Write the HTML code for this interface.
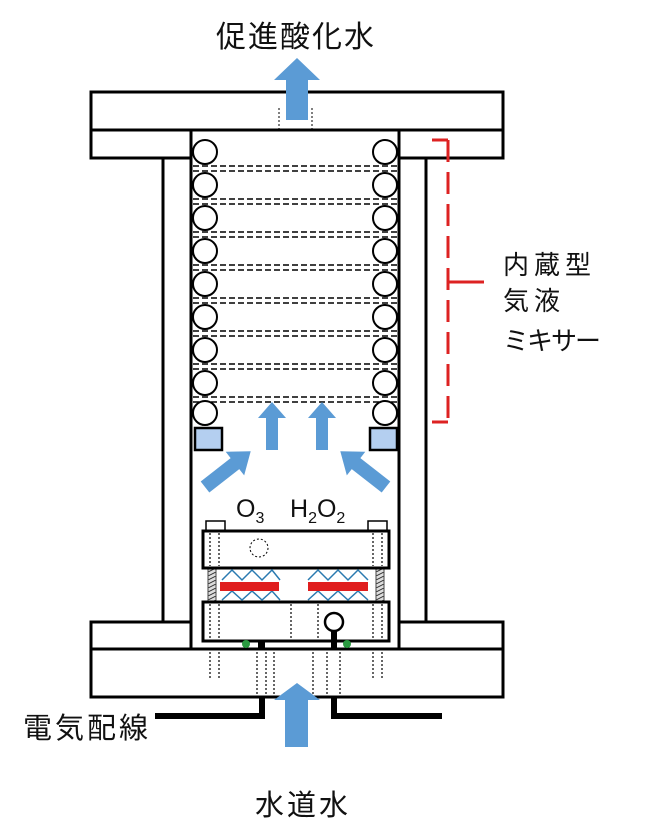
<!DOCTYPE html>
<html><head><meta charset="utf-8"><style>
html,body{margin:0;padding:0;background:#fff;}
svg{display:block;}
text{font-family:"Liberation Sans","Noto Sans CJK JP",sans-serif;fill:#111;}
</style></head><body>
<svg width="649" height="840" viewBox="0 0 649 840" xmlns="http://www.w3.org/2000/svg">
<defs>
<pattern id="hatch" width="8" height="4" patternUnits="userSpaceOnUse"><rect width="8" height="4" fill="#ddd"/><path d="M0 4L8 0" stroke="#333" stroke-width="1"/></pattern>
</defs>
<text x="296" y="47" font-size="30" text-anchor="middle" letter-spacing="2">促進酸化水</text>
<rect x="91" y="92" width="412" height="38" fill="#fff" stroke="#000" stroke-width="3"/>
<rect x="91" y="130" width="412" height="28" fill="#fff" stroke="#000" stroke-width="3"/>
<line x1="279" y1="108" x2="279" y2="130" stroke="#000" stroke-dasharray="2,2"/>
<line x1="312" y1="108" x2="312" y2="130" stroke="#000" stroke-dasharray="2,2"/>
<line x1="163" y1="158" x2="163" y2="622" stroke="#000" stroke-width="3"/>
<line x1="426" y1="158" x2="426" y2="622" stroke="#000" stroke-width="3"/>
<rect x="91" y="622" width="412" height="27" fill="#fff" stroke="#000" stroke-width="3"/>
<rect x="91" y="649" width="412" height="48" fill="#fff" stroke="#000" stroke-width="3"/>
<rect x="191" y="130" width="208" height="519" fill="#fff" stroke="#000" stroke-width="3"/>
<g transform="translate(297,120)"><polygon points="-11,0 11,0 11,-40 23,-40 0,-62 -23,-40 -11,-40" fill="#5b9bd5"/></g>
<g stroke="#000" stroke-width="1.5" stroke-dasharray="6,3">
<path d="M193 166H397M193 171H397M193 199H397M193 204H397M193 232H397M193 237H397M193 265H397M193 270H397M193 298H397M193 303H397M193 331H397M193 336H397M193 364H397M193 369H397M193 397H397M193 402H397"/>
</g>
<g fill="#fff" stroke="#000" stroke-width="2">
<circle cx="205" cy="152" r="12"/><circle cx="205" cy="185" r="12"/><circle cx="205" cy="218" r="12"/><circle cx="205" cy="251" r="12"/><circle cx="205" cy="284" r="12"/><circle cx="205" cy="317" r="12"/><circle cx="205" cy="350" r="12"/><circle cx="205" cy="383" r="12"/><circle cx="205" cy="413" r="12"/>
<circle cx="385" cy="152" r="12"/><circle cx="385" cy="185" r="12"/><circle cx="385" cy="218" r="12"/><circle cx="385" cy="251" r="12"/><circle cx="385" cy="284" r="12"/><circle cx="385" cy="317" r="12"/><circle cx="385" cy="350" r="12"/><circle cx="385" cy="383" r="12"/><circle cx="385" cy="413" r="12"/>
</g>
<rect x="195" y="428" width="27" height="22" fill="#b4cff0" stroke="#000" stroke-width="2.5"/>
<rect x="370" y="428" width="27" height="22" fill="#b4cff0" stroke="#000" stroke-width="2.5"/>
<g stroke="#d22" stroke-width="3" fill="none">
<path d="M432 140H448" /><path d="M432 422H448"/>
<path d="M448 140V422" stroke-dasharray="22,10"/>
<path d="M448 282H484"/>
</g>
<text x="503" y="274" font-size="26" letter-spacing="5">内蔵型</text>
<text x="503" y="310" font-size="26" letter-spacing="5">気液</text>
<text x="503" y="350" font-size="26" letter-spacing="-2">ミキサー</text>
<g fill="#5b9bd5">
<polygon points="266,450 278,450 278,418 286,418 272,402 258,418 266,418"/>
<polygon points="316,450 328,450 328,418 336,418 322,402 308,418 316,418"/>
</g>
<g transform="translate(205,487) rotate(52)"><polygon points="-7,0 7,0 7,-38 15,-38 0,-58 -15,-38 -7,-38" fill="#5b9bd5"/></g>
<g transform="translate(386,487) rotate(-52)"><polygon points="-7,0 7,0 7,-38 15,-38 0,-58 -15,-38 -7,-38" fill="#5b9bd5"/></g>
<text x="236" y="517" font-size="25">O<tspan font-size="16" dy="6">3</tspan></text>
<text x="290" y="517" font-size="25">H<tspan font-size="16" dy="6">2</tspan><tspan dy="-6">O</tspan><tspan font-size="16" dy="6">2</tspan></text>
<rect x="206" y="521" width="19" height="10" fill="#fff" stroke="#000" stroke-width="1.5"/>
<rect x="368" y="521" width="19" height="10" fill="#fff" stroke="#000" stroke-width="1.5"/>
<rect x="208" y="568" width="8" height="34" fill="url(#hatch)" stroke="#444"/>
<rect x="376" y="568" width="8" height="34" fill="url(#hatch)" stroke="#444"/>
<rect x="203" y="531" width="186" height="37" fill="#fff" stroke="#000" stroke-width="3"/>
<rect x="203" y="602" width="186" height="39" fill="#fff" stroke="#000" stroke-width="3"/>
<circle cx="259" cy="548" r="9" fill="none" stroke="#000" stroke-dasharray="2,2"/>
<g stroke="#000" stroke-width="1.2" stroke-dasharray="2,2">
<path d="M210 533V566M219 533V566M373 533V566M382 533V566M210 604V639M219 604V639M373 604V639M382 604V639M291 604V639M318 604V639"/>
<path d="M210 652V678M219 652V678M373 652V678M382 652V678M257 652V697M266 652V697M274 652V697M313 652V697M327 652V697M340 652V697"/>
</g>
<g fill="none" stroke="#2a7ab0" stroke-width="1.5">
<polyline points="222,580 232,570 242,580 252,570 262,580 272,570 280,580"/>
<polyline points="222,600 232,591 242,600 252,591 262,600 272,591 280,600"/>
<polyline points="308,580 318,570 328,580 338,570 348,580 358,570 368,580"/>
<polyline points="308,600 318,591 328,600 338,591 348,600 358,591 368,600"/>
</g>
<rect x="220" y="582" width="59" height="9" fill="#e01e1e"/>
<rect x="308" y="582" width="60" height="9" fill="#e01e1e"/>
<circle cx="246" cy="644" r="4" fill="#2a9a40"/>
<circle cx="347" cy="644" r="4" fill="#2a9a40"/>
<circle cx="334" cy="622" r="9" fill="#fff" stroke="#000" stroke-width="2.5"/>
<rect x="331" y="630" width="6" height="18" fill="#000"/>
<rect x="258" y="641" width="7" height="8" fill="#000"/>
<path d="M155 716H262V697" fill="none" stroke="#000" stroke-width="6"/>
<path d="M442 716H334V697" fill="none" stroke="#000" stroke-width="6"/>
<polygon points="285,747 308,747 308,700 320,700 297,683 274,700 285,700" fill="#5b9bd5"/>
<text x="23" y="738" font-size="29" letter-spacing="3">電気配線</text>
<text x="255" y="815" font-size="29" letter-spacing="3">水道水</text>
</svg>
</body></html>
